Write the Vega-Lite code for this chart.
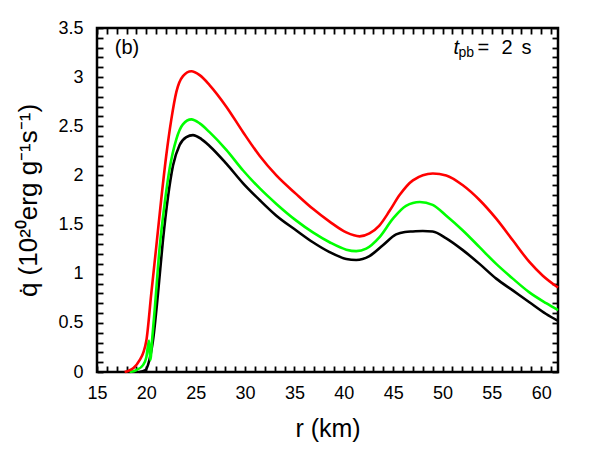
{
  "$schema": "https://vega.github.io/schema/vega-lite/v6.json",
  "width": 461,
  "height": 344,
  "autosize": {"type": "none"},
  "padding": {"left": 97, "top": 28, "right": 42, "bottom": 78},
  "background": "white",
  "config": {
    "font": "Liberation Sans",
    "view": {"stroke": "black", "strokeWidth": 2.5, "fill": null}
  },
  "data": {"values": [
    {"s": "black", "r": 19.3, "q": 0.0},
    {"s": "black", "r": 19.9, "q": 0.02},
    {"s": "black", "r": 20.3, "q": 0.12},
    {"s": "black", "r": 20.67, "q": 0.32},
    {"s": "black", "r": 21.18, "q": 0.8},
    {"s": "black", "r": 21.68, "q": 1.34},
    {"s": "black", "r": 22.19, "q": 1.78},
    {"s": "black", "r": 22.7, "q": 2.1},
    {"s": "black", "r": 23.37, "q": 2.31},
    {"s": "black", "r": 24.05, "q": 2.39},
    {"s": "black", "r": 24.72, "q": 2.41},
    {"s": "black", "r": 25.57, "q": 2.37},
    {"s": "black", "r": 26.4, "q": 2.3},
    {"s": "black", "r": 28.1, "q": 2.12},
    {"s": "black", "r": 29.8, "q": 1.92},
    {"s": "black", "r": 31.47, "q": 1.75},
    {"s": "black", "r": 33.17, "q": 1.59},
    {"s": "black", "r": 35.19, "q": 1.44},
    {"s": "black", "r": 36.87, "q": 1.32},
    {"s": "black", "r": 38.56, "q": 1.22},
    {"s": "black", "r": 40.25, "q": 1.15},
    {"s": "black", "r": 41.26, "q": 1.14},
    {"s": "black", "r": 42.6, "q": 1.18},
    {"s": "black", "r": 43.96, "q": 1.29},
    {"s": "black", "r": 45.3, "q": 1.4},
    {"s": "black", "r": 46.2, "q": 1.425},
    {"s": "black", "r": 47.0, "q": 1.43},
    {"s": "black", "r": 48.0, "q": 1.435},
    {"s": "black", "r": 49.0, "q": 1.43},
    {"s": "black", "r": 50.38, "q": 1.36},
    {"s": "black", "r": 52.06, "q": 1.24},
    {"s": "black", "r": 53.75, "q": 1.1},
    {"s": "black", "r": 55.44, "q": 0.95},
    {"s": "black", "r": 57.12, "q": 0.83},
    {"s": "black", "r": 58.8, "q": 0.71},
    {"s": "black", "r": 60.5, "q": 0.59},
    {"s": "black", "r": 61.7, "q": 0.52},
    {"s": "green", "r": 18.3, "q": 0.0},
    {"s": "green", "r": 19.0, "q": 0.02},
    {"s": "green", "r": 19.66, "q": 0.07},
    {"s": "green", "r": 20.0, "q": 0.15},
    {"s": "green", "r": 20.27, "q": 0.32},
    {"s": "green", "r": 20.4, "q": 0.12},
    {"s": "green", "r": 20.6, "q": 0.35},
    {"s": "green", "r": 20.84, "q": 0.63},
    {"s": "green", "r": 21.35, "q": 1.27},
    {"s": "green", "r": 21.85, "q": 1.71},
    {"s": "green", "r": 22.36, "q": 2.07},
    {"s": "green", "r": 23.04, "q": 2.37},
    {"s": "green", "r": 23.7, "q": 2.52},
    {"s": "green", "r": 24.56, "q": 2.57},
    {"s": "green", "r": 25.4, "q": 2.53},
    {"s": "green", "r": 26.4, "q": 2.44},
    {"s": "green", "r": 28.1, "q": 2.26},
    {"s": "green", "r": 29.8, "q": 2.05},
    {"s": "green", "r": 31.47, "q": 1.87},
    {"s": "green", "r": 33.17, "q": 1.71},
    {"s": "green", "r": 35.19, "q": 1.54},
    {"s": "green", "r": 36.87, "q": 1.42},
    {"s": "green", "r": 38.56, "q": 1.32},
    {"s": "green", "r": 40.25, "q": 1.245},
    {"s": "green", "r": 41.26, "q": 1.23},
    {"s": "green", "r": 42.27, "q": 1.255},
    {"s": "green", "r": 43.6, "q": 1.37},
    {"s": "green", "r": 44.98, "q": 1.56},
    {"s": "green", "r": 46.3, "q": 1.69},
    {"s": "green", "r": 47.7, "q": 1.73},
    {"s": "green", "r": 49.0, "q": 1.7},
    {"s": "green", "r": 50.38, "q": 1.59},
    {"s": "green", "r": 52.06, "q": 1.44},
    {"s": "green", "r": 53.75, "q": 1.27},
    {"s": "green", "r": 55.44, "q": 1.1},
    {"s": "green", "r": 57.12, "q": 0.95},
    {"s": "green", "r": 58.8, "q": 0.81},
    {"s": "green", "r": 60.5, "q": 0.7},
    {"s": "green", "r": 61.7, "q": 0.63},
    {"s": "red", "r": 17.8, "q": 0.0},
    {"s": "red", "r": 18.14, "q": 0.01},
    {"s": "red", "r": 18.7, "q": 0.04},
    {"s": "red", "r": 19.32, "q": 0.12},
    {"s": "red", "r": 19.7, "q": 0.2},
    {"s": "red", "r": 20.0, "q": 0.32},
    {"s": "red", "r": 20.5, "q": 0.8},
    {"s": "red", "r": 21.0, "q": 1.27},
    {"s": "red", "r": 21.5, "q": 1.75},
    {"s": "red", "r": 22.0, "q": 2.19},
    {"s": "red", "r": 22.53, "q": 2.57},
    {"s": "red", "r": 23.04, "q": 2.85},
    {"s": "red", "r": 23.71, "q": 3.01},
    {"s": "red", "r": 24.56, "q": 3.06},
    {"s": "red", "r": 25.4, "q": 3.02},
    {"s": "red", "r": 26.4, "q": 2.92},
    {"s": "red", "r": 28.1, "q": 2.7},
    {"s": "red", "r": 29.8, "q": 2.44},
    {"s": "red", "r": 31.47, "q": 2.2},
    {"s": "red", "r": 33.17, "q": 2.0},
    {"s": "red", "r": 35.19, "q": 1.81},
    {"s": "red", "r": 36.87, "q": 1.66},
    {"s": "red", "r": 38.56, "q": 1.53},
    {"s": "red", "r": 40.25, "q": 1.42},
    {"s": "red", "r": 41.6, "q": 1.38},
    {"s": "red", "r": 42.6, "q": 1.41},
    {"s": "red", "r": 43.6, "q": 1.49},
    {"s": "red", "r": 44.64, "q": 1.64},
    {"s": "red", "r": 45.65, "q": 1.8},
    {"s": "red", "r": 47.0, "q": 1.95},
    {"s": "red", "r": 49.02, "q": 2.02},
    {"s": "red", "r": 50.38, "q": 2.0},
    {"s": "red", "r": 52.06, "q": 1.9},
    {"s": "red", "r": 53.75, "q": 1.75},
    {"s": "red", "r": 55.44, "q": 1.56},
    {"s": "red", "r": 57.12, "q": 1.34},
    {"s": "red", "r": 58.8, "q": 1.12},
    {"s": "red", "r": 60.16, "q": 0.98},
    {"s": "red", "r": 61.7, "q": 0.86}
  ]},
  "layer": [
    {
      "mark": {"type": "line", "interpolate": "monotone", "strokeWidth": 2.6},
      "encoding": {
        "x": {"field": "r", "type": "quantitative", "scale": {"domain": [15, 61.7], "nice": false, "zero": false},
          "axis": {"orient": "bottom", "offset": -6, "tickSize": 6, "tickColor": "black", "tickWidth": 1.8, "tickCount": 47, "grid": false, "domain": false, "labelExpr": "datum.value % 5 === 0 ? datum.label : ''", "labelFont": "Liberation Sans", "labelFontSize": 18, "labelColor": "black", "labelPadding": 12, "labelFlush": false, "labelOverlap": false, "title": "r (km)", "titleFont": "Liberation Sans", "titleFontSize": 25, "titleFontWeight": "normal", "titleColor": "black", "titlePadding": 14}},
        "y": {"field": "q", "type": "quantitative", "scale": {"domain": [0, 3.5], "nice": false},
          "axis": {"orient": "left", "offset": -6, "tickSize": 6, "tickColor": "black", "tickWidth": 1.8, "tickCount": 35, "grid": false, "domain": false, "format": "~g", "labelExpr": "abs(datum.value * 2 - round(datum.value * 2)) < 0.001 ? datum.label : ''", "labelFont": "Liberation Sans", "labelFontSize": 18, "labelColor": "black", "labelPadding": 14, "labelFlush": false, "labelOverlap": false, "title": "q̇ (10²⁰erg g⁻¹s⁻¹)", "titleFont": "Liberation Sans", "titleFontSize": 26, "titleFontWeight": "normal", "titleColor": "black", "titlePadding": 16}},
        "color": {"field": "s", "type": "nominal", "scale": {"domain": ["black", "green", "red"], "range": ["#000000", "#00ff00", "#ff0000"]}, "legend": null},
        "order": {"field": "r", "type": "quantitative"}
      }
    },
    {
      "mark": {"type": "line", "opacity": 0},
      "encoding": {
        "x": {"field": "r", "type": "quantitative", "axis": {"orient": "top", "offset": -6, "tickSize": 6, "tickColor": "black", "tickWidth": 1.8, "tickCount": 47, "grid": false, "domain": false, "labels": false, "title": null}},
        "y": {"field": "q", "type": "quantitative", "axis": {"orient": "right", "offset": -6, "tickSize": 6, "tickColor": "black", "tickWidth": 1.8, "tickCount": 35, "grid": false, "domain": false, "labels": false, "title": null}},
        "detail": {"field": "s"}
      }
    },
    {
      "data": {"values": [{"label": "(b)"}]},
      "mark": {"type": "text", "align": "left", "baseline": "middle", "fontSize": 20},
      "encoding": {"x": {"datum": 16.8, "type": "quantitative", "axis": null}, "y": {"datum": 3.3, "type": "quantitative", "axis": null}, "text": {"field": "label"}}
    },
    {
      "data": {"values": [{"label": "t"}]},
      "mark": {"type": "text", "align": "left", "baseline": "middle", "fontSize": 20, "fontStyle": "italic", "dx": 2},
      "encoding": {"x": {"datum": 50.92, "type": "quantitative", "axis": null}, "y": {"datum": 3.3, "type": "quantitative", "axis": null}, "text": {"field": "label"}}
    },
    {
      "data": {"values": [{"label": "pb"}]},
      "mark": {"type": "text", "align": "left", "baseline": "middle", "fontSize": 14, "dx": 7, "dy": 5},
      "encoding": {"x": {"datum": 50.92, "type": "quantitative", "axis": null}, "y": {"datum": 3.3, "type": "quantitative", "axis": null}, "text": {"field": "label"}}
    },
    {
      "data": {"values": [{"label": "="}]},
      "mark": {"type": "text", "align": "left", "baseline": "middle", "fontSize": 20, "dx": 26},
      "encoding": {"x": {"datum": 50.92, "type": "quantitative", "axis": null}, "y": {"datum": 3.3, "type": "quantitative", "axis": null}, "text": {"field": "label"}}
    },
    {
      "data": {"values": [{"label": "2"}]},
      "mark": {"type": "text", "align": "left", "baseline": "middle", "fontSize": 20, "dx": 50},
      "encoding": {"x": {"datum": 50.92, "type": "quantitative", "axis": null}, "y": {"datum": 3.3, "type": "quantitative", "axis": null}, "text": {"field": "label"}}
    },
    {
      "data": {"values": [{"label": "s"}]},
      "mark": {"type": "text", "align": "left", "baseline": "middle", "fontSize": 20, "dx": 70},
      "encoding": {"x": {"datum": 50.92, "type": "quantitative", "axis": null}, "y": {"datum": 3.3, "type": "quantitative", "axis": null}, "text": {"field": "label"}}
    }
  ]
}
